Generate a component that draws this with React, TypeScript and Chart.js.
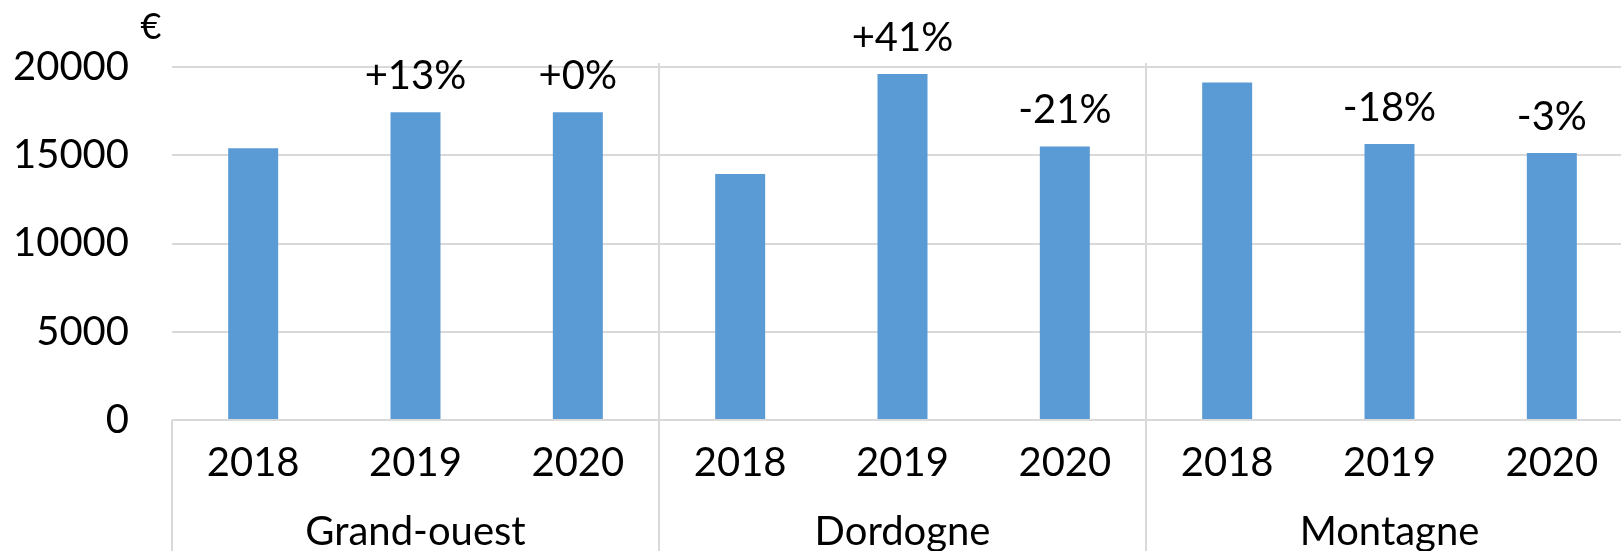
import React, { useEffect, useRef } from "react";
import { Chart, registerables } from "chart.js";

Chart.register(...registerables);

const years = ["2018", "2019", "2020"];
const groups = ["Grand-ouest", "Dordogne", "Montagne"];
const values = [15400, 17430, 17430, 13940, 19600, 15500, 19120, 15640, 15130];
const changeLabels = ["", "+13%", "+0%", "", "+41%", "-21%", "", "-18%", "-3%"];
const yTicks = [0, 5000, 10000, 15000, 20000];
const unitLabel = "€";

const FONT = "Lato, 'Open Sans', sans-serif";
const FS = 40;
const BAR = "#5B9BD5";
const GRID = "#D9D9D9";

const CANVAS_W = 1700;
const CANVAS_H = 600;

export default function App() {
  const ref = useRef<HTMLCanvasElement | null>(null);

  useEffect(() => {
    const canvas = ref.current;
    if (!canvas) return;
    const labels = groups.flatMap(() => years);

    const overlay = {
      id: "overlay",
      afterDatasetsDraw(chart: any) {
        const ctx = chart.ctx;
        const meta = chart.getDatasetMeta(0);
        ctx.save();
        ctx.fillStyle = "#000";
        ctx.font = `${FS}px ${FONT}`;
        ctx.textAlign = "center";
        ctx.textBaseline = "middle";
        meta.data.forEach((bar: any, i: number) => {
          const t = changeLabels[i];
          if (t) ctx.fillText(t, bar.x, bar.y - 36);
        });
        ctx.restore();
      },
      afterDraw(chart: any) {
        const ctx = chart.ctx;
        const xs = chart.scales.x;
        const area = chart.chartArea;
        ctx.save();
        ctx.strokeStyle = GRID;
        ctx.lineWidth = 2;
        ctx.beginPath();
        ctx.moveTo(area.left, area.bottom);
        ctx.lineTo(area.left, CANVAS_H);
        ctx.stroke();
        for (let g = 1; g < groups.length; g++) {
          const i = g * years.length;
          const x = (xs.getPixelForValue(i - 1) + xs.getPixelForValue(i)) / 2;
          ctx.beginPath();
          ctx.moveTo(x, area.top - 4);
          ctx.lineTo(x, CANVAS_H);
          ctx.stroke();
        }
        ctx.beginPath();
        ctx.moveTo(area.right, area.top - 4);
        ctx.lineTo(area.right, CANVAS_H);
        ctx.stroke();
        ctx.fillStyle = "#000";
        ctx.font = `36px ${FONT}`;
        ctx.textAlign = "center";
        ctx.textBaseline = "middle";
        ctx.fillText(unitLabel, 151, 27);
        ctx.restore();
      },
    };

    const chart = new Chart(canvas, {
      type: "bar",
      data: {
        labels,
        datasets: [
          {
            data: values,
            backgroundColor: BAR,
            borderWidth: 0,
            categoryPercentage: 1,
            barPercentage: 0.308,
            xAxisID: "x",
          },
        ],
      },
      options: {
        responsive: false,
        animation: false,
        devicePixelRatio: 1,
        layout: { padding: { left: 0, top: 65, right: 67, bottom: 0 } },
        plugins: {
          legend: { display: false },
          tooltip: { enabled: false },
          title: { display: false },
        },
        scales: {
          x: {
            type: "category",
            position: "bottom",
            weight: 0,
            grid: { display: false, drawTicks: false },
            border: { display: false },
            ticks: {
              color: "#000",
              font: { family: FONT, size: FS },
              padding: 19,
              maxRotation: 0,
              autoSkip: false,
            },
            afterFit: (s: any) => {
              s.height = 85;
            },
          },
          x2: {
            type: "category",
            labels: groups,
            offset: true,
            position: "bottom",
            weight: 1,
            grid: { display: false, drawTicks: false },
            border: { display: false },
            ticks: {
              color: "#000",
              font: { family: FONT, size: FS },
              padding: 3,
              maxRotation: 0,
              autoSkip: false,
            },
            afterFit: (s: any) => {
              s.height = 95;
            },
          },
          y: {
            min: yTicks[0],
            max: yTicks[yTicks.length - 1],
            afterBuildTicks: (s: any) => {
              s.ticks = yTicks.map((v) => ({ value: v }));
            },
            grid: { color: GRID, lineWidth: 2, drawTicks: false },
            border: { display: false },
            ticks: {
              color: "#000",
              font: { family: FONT, size: FS },
              padding: 43,
              callback: (v: any) => String(v),
            },
            afterFit: (s: any) => {
              s.width = 172;
            },
          },
        },
      },
      plugins: [overlay],
    });

    return () => chart.destroy();
  }, []);

  return (
    <div
      style={{
        position: "fixed",
        left: 0,
        top: 0,
        width: 1621,
        height: 551,
        overflow: "hidden",
        background: "#fff",
      }}
    >
      <canvas
        ref={ref}
        width={CANVAS_W}
        height={CANVAS_H}
        style={{ display: "block", width: CANVAS_W, height: CANVAS_H }}
      />
    </div>
  );
}
